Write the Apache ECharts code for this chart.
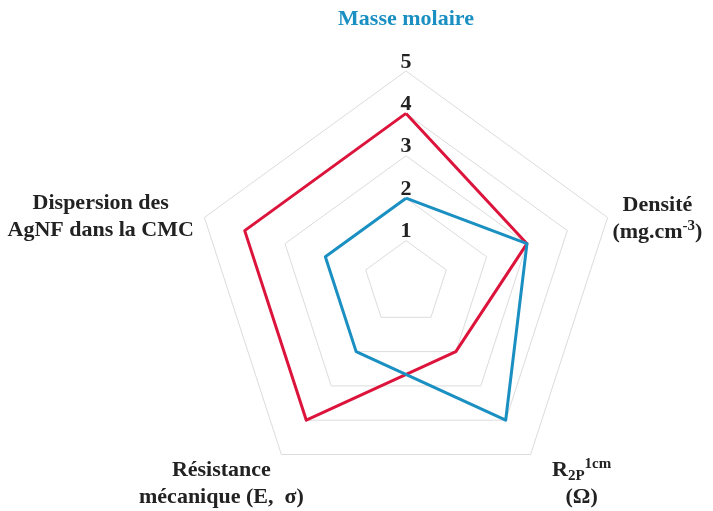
<!DOCTYPE html>
<html>
<head>
<meta charset="utf-8">
<script src="https://cdn.jsdelivr.net/npm/echarts@6/dist/echarts.min.js"></script>
<style>
  html, body { margin: 0; padding: 0; background: #ffffff; }
  #chart { width: 713px; height: 511px; }
</style>
</head>
<body>
<div id="chart"></div>
<script>
// Indicators, listed counter-clockwise from the top axis
const axisNames = [
  '{t|Masse molaire}',
  '{t|Dispersion des}\n{t|AgNF dans la CMC}',
  '{t|Résistance}\n{t|mécanique (E,  σ)}',
  '{t|R}{sub|2P}{sup|1cm}\n{t|(Ω)}',
  '{t|Densité}\n{t|(mg.cm}{sup|-3}{t|)}'
];
const axisMax = 5;
const seriesRed = [4, 4, 4, 2, 3];
const seriesBlue = [2, 2, 2, 4, 3];
const ringLabels = ['1', '2', '3', '4', '5'];

const FONT = '"Liberation Serif", "DejaVu Serif", serif';
const RED = '#dc143c';
const BLUE = '#1a8fc2';

// placement of each axis name around the polygon
const nameLayout = [
  { gap: 52, style: { align: 'center', verticalAlign: 'middle' } },
  { gap: 11, style: { padding: [6, 0, 0, 0] } },
  { gap: 0, style: { align: 'center', verticalAlign: 'top', padding: [2, 120, 0, 0] } },
  { gap: 0, style: { align: 'center', verticalAlign: 'top', padding: [2, 0, 0, 102] } },
  { gap: 5, style: { padding: [5, 0, 0, 0] } }
];

const indicators = axisNames.map((name, i) => {
  const ind = {
    name: name,
    max: axisMax,
    min: 0,
    nameGap: nameLayout[i].gap,
    nameTextStyle: nameLayout[i].style
  };
  if (i === 0) {
    ind.color = BLUE;
    ind.axisLabel = { show: true };
  }
  return ind;
});

const chart = echarts.init(document.getElementById('chart'), null, { renderer: 'canvas' });
chart.setOption({
  backgroundColor: '#ffffff',
  animation: false,
  radar: {
    center: [406, 283],
    radius: 212,
    startAngle: 90,
    splitNumber: 5,
    shape: 'polygon',
    indicator: indicators,
    axisName: {
      color: '#222222',
      fontFamily: FONT,
      fontWeight: 'bold',
      fontSize: 22,
      rich: {
        t: { fontFamily: FONT, fontWeight: 'bold', fontSize: 22, lineHeight: 27, align: 'center' },
        sub: { fontFamily: FONT, fontWeight: 'bold', fontSize: 15, lineHeight: 15, verticalAlign: 'bottom', align: 'center' },
        sup: { fontFamily: FONT, fontWeight: 'bold', fontSize: 15, lineHeight: 15, verticalAlign: 'top', align: 'center' }
      }
    },
    axisLine: { show: false },
    axisTick: { show: false },
    axisLabel: {
      show: false,
      margin: 0,
      align: 'center',
      verticalAlign: 'bottom',
      lineHeight: 18,
      color: '#222222',
      fontFamily: FONT,
      fontWeight: 'bold',
      fontSize: 22,
      formatter: (v) => ringLabels[Math.round(v) - 1] || ''
    },
    splitLine: { lineStyle: { color: '#dcdcdc', width: 1 } },
    splitArea: { show: false }
  },
  series: [{
    type: 'radar',
    symbol: 'none',
    data: [
      { value: seriesRed, lineStyle: { color: RED, width: 3 }, itemStyle: { color: RED } },
      { value: seriesBlue, lineStyle: { color: BLUE, width: 3 }, itemStyle: { color: BLUE } }
    ]
  }]
});
</script>
</body>
</html>
